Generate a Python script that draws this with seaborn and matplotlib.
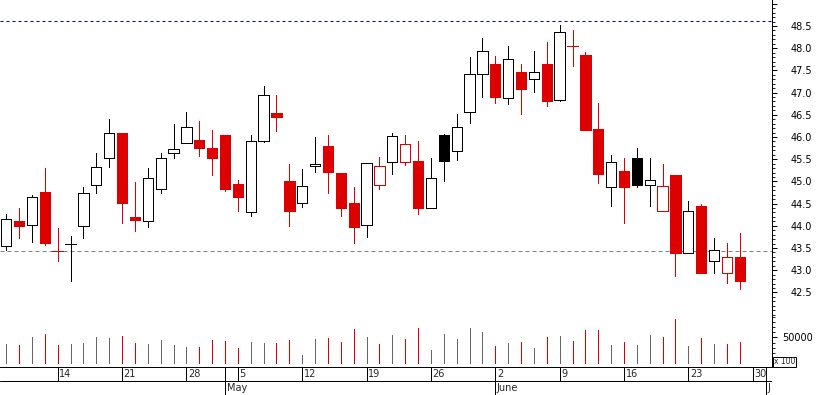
import numpy as np
import pandas as pd
import matplotlib
matplotlib.use('Agg')
import matplotlib.pyplot as plt
import seaborn as sns
from matplotlib.ticker import FixedLocator, MultipleLocator, FuncFormatter

# daily prices, one trading day per entry (8 Apr -> 27 Jun)
opens = [43.55, 44.11, 44.01, 44.76, 43.43, 43.58, 43.99, 44.93, 45.52, 46.09,
         44.20, 44.10, 44.82, 45.63, 45.86, 45.93, 45.75, 46.05, 44.94, 44.31,
         45.90, 46.54, 45.02, 44.51, 45.34, 45.80, 45.19, 44.52, 44.01, 44.93,
         45.43, 45.43, 45.46, 44.40, 46.05, 45.68, 46.56, 47.41, 47.64, 46.87,
         47.46, 47.30, 47.64, 46.83, 48.04, 47.85, 46.18, 44.88, 45.23, 45.52,
         44.93, 44.33, 45.14, 43.38, 44.44, 43.20, 42.94, 43.29]
highs = [44.27, 44.40, 44.69, 45.30, 43.95, 43.77, 44.87, 45.64, 46.41, 46.09,
         44.99, 45.30, 45.64, 46.29, 46.56, 46.36, 46.16, 46.05, 45.03, 46.05,
         47.15, 46.95, 45.39, 45.28, 46.00, 46.05, 45.19, 44.87, 45.41, 45.55,
         46.09, 46.05, 45.91, 45.53, 46.07, 46.52, 47.80, 48.23, 47.82, 48.05,
         47.64, 47.94, 48.14, 48.52, 48.41, 47.91, 46.77, 45.59, 45.53, 45.75,
         45.52, 45.39, 45.14, 44.56, 44.49, 43.73, 43.61, 43.84]
lows = [43.46, 43.73, 43.64, 43.57, 43.21, 42.76, 43.73, 44.75, 45.33, 44.07,
        43.89, 43.98, 44.75, 45.53, 45.86, 45.58, 45.15, 44.79, 44.34, 44.23,
        45.88, 46.14, 44.00, 44.43, 45.22, 44.75, 44.23, 43.62, 43.75, 44.84,
        45.17, 45.38, 44.27, 44.39, 45.02, 45.49, 46.32, 46.89, 46.77, 46.75,
        46.52, 47.02, 46.70, 46.80, 47.61, 46.16, 44.97, 44.45, 44.07, 44.88,
        44.45, 44.33, 42.88, 43.38, 42.94, 42.94, 42.72, 42.58]
closes = [44.15, 44.00, 44.66, 43.62, 43.43, 43.58, 44.73, 45.32, 46.08, 44.52,
          44.14, 45.07, 45.52, 45.72, 46.22, 45.76, 45.53, 44.84, 44.66, 45.90,
          46.94, 46.46, 44.34, 44.89, 45.39, 45.22, 44.39, 43.98, 45.41, 45.34,
          46.02, 45.84, 44.39, 45.07, 45.47, 46.22, 47.43, 47.93, 46.89, 47.75,
          47.09, 47.46, 46.80, 48.36, 48.04, 46.16, 45.17, 45.43, 44.88, 44.93,
          45.04, 44.89, 43.39, 44.33, 42.94, 43.45, 43.29, 42.76]
# volume in hundreds
volumes = [37700, 35700, 51600, 56900, 35700, 37700, 39700, 51600, 48900, 53600,
           39700, 37700, 45000, 35700, 31700, 31700, 45000, 43000, 29100, 41000,
           39700, 39700, 45000, 15900, 47000, 49600, 41000, 67500, 51600, 37700,
           55600, 47000, 69400, 25100, 57500, 47600, 69400, 61500, 33700, 39700,
           41700, 29800, 51600, 53600, 43700, 65500, 65500, 35700, 41700, 35700,
           55600, 51600, 87300, 33700, 49600, 37700, 37700, 41700]

week_ticks = [4, 9, 14, 18, 23, 28, 33, 38, 43, 48, 53, 58]
week_labels = ['14', '21', '28', '5', '12', '19', '26', '2', '9', '16', '23', '30']
month_ticks = [17, 38, 59]
month_labels = ['May', 'June', 'J']

upper_level = 48.61
lower_level = 43.43

RED = '#dd0000'
VOLGRAY = '#666666'
PX = 0.72  # one pixel in points at 100 dpi

sns.set_theme(style='white')
plt.rcParams['font.family'] = ['DejaVu Sans']

df = pd.DataFrame({'open': opens, 'high': highs, 'low': lows,
                   'close': closes, 'volume': volumes})
df['day'] = np.arange(len(df))
df['down'] = df['close'] < df['close'].shift(1)
df['color'] = np.where(df['down'], RED, 'black')
df['vcolor'] = np.where(df['down'], RED, VOLGRAY)
df['filled'] = df['close'] < df['open']
df['doji'] = df['close'] == df['open']

W, H = 817, 395
fig = plt.figure(figsize=(W / 100, H / 100), dpi=100)
ax = fig.add_axes([0, 80 / H, 772 / W, 315 / H])
axv = fig.add_axes([0, 28 / H, 772 / W, 52 / H])
axd = fig.add_axes([0, 0, 772 / W, 28 / H])

xlim = (-0.482, 59.5)

# price panel
ax.axhline(upper_level, color='#0000dd', lw=PX, ls=(0, (3, 3)), zorder=1)
ax.axhline(lower_level, color='#808080', lw=PX, ls=(0, (4, 3)), zorder=1)
ax.vlines(df['day'], df['low'], df['high'], colors=df['color'], lw=PX,
          antialiased=False, zorder=2)
body = df[~df['doji']]
ax.bar(body['day'], (body['close'] - body['open']).abs(),
       bottom=body[['open', 'close']].min(axis=1), width=0.8,
       color=np.where(body['filled'], body['color'], 'white'),
       edgecolor=body['color'], linewidth=PX, antialiased=False, zorder=3)
doji = df[df['doji']]
ax.hlines(doji['close'], doji['day'] - 0.42, doji['day'] + 0.42,
          colors=doji['color'], lw=PX, antialiased=False, zorder=3)

ax.set_xlim(xlim)
ax.set_ylim(41.991, 49.086)
ax.set_xticks([])
ax.yaxis.tick_right()
ax.yaxis.set_major_locator(FixedLocator(np.arange(42.5, 49.01, 0.5)))
ax.yaxis.set_minor_locator(MultipleLocator(0.1))
ax.yaxis.set_major_formatter(FuncFormatter(lambda v, p: f'{v:.1f}' if v < 48.6 else ''))
ax.tick_params(axis='y', which='major', direction='out', length=5 * PX, width=PX,
               pad=10, labelsize=7, colors='black')
ax.tick_params(axis='y', which='minor', direction='out', length=3 * PX, width=PX)
for s in ['left', 'top']:
    ax.spines[s].set_visible(False)
for s in ['right', 'bottom']:
    ax.spines[s].set_color('black')
    ax.spines[s].set_linewidth(PX)

# volume panel
axv.vlines(df['day'], 0, df['volume'], colors=df['vcolor'], lw=PX, antialiased=False)
axv.set_xlim(xlim)
axv.set_ylim(-8531, 94640)
axv.set_xticks([])
axv.yaxis.tick_right()
axv.yaxis.set_major_locator(FixedLocator([50000]))
axv.yaxis.set_minor_locator(FixedLocator(np.arange(0, 94000, 10000)))
axv.yaxis.set_major_formatter(FuncFormatter(lambda v, p: f'{v:.0f}'))
axv.tick_params(axis='y', which='major', direction='out', length=5 * PX, width=PX,
                pad=3.4, labelsize=7, colors='black')
axv.tick_params(axis='y', which='minor', direction='out', length=3 * PX, width=PX)
for s in ['left', 'top']:
    axv.spines[s].set_visible(False)
for s in ['right', 'bottom']:
    axv.spines[s].set_color('black')
    axv.spines[s].set_linewidth(PX)

fig.text(774 / W, 1 - 362 / H, 'x 100', fontsize=5.5, ha='left', va='center',
         bbox=dict(boxstyle='square,pad=0.12', fc='white', ec='black', lw=PX))

# date strip
axd.set_xlim(xlim)
axd.set_ylim(0, 28)
axd.set_axis_off()
axd.axhline(14, color='black', lw=PX)
axd.vlines(week_ticks, 14, 28, colors='black', lw=PX, antialiased=False)
axd.vlines(month_ticks, 0, 28, colors='black', lw=PX, antialiased=False)
for x, lab in zip(week_ticks, week_labels):
    axd.annotate(lab, xy=(x, 21), xytext=(1.2, 0), textcoords='offset points',
                 ha='left', va='center', fontsize=7)
for x, lab in zip(month_ticks, month_labels):
    axd.annotate(lab, xy=(x, 7), xytext=(1.2, 0), textcoords='offset points',
                 ha='left', va='center', fontsize=7)

fig.savefig('out.png', dpi=100)
